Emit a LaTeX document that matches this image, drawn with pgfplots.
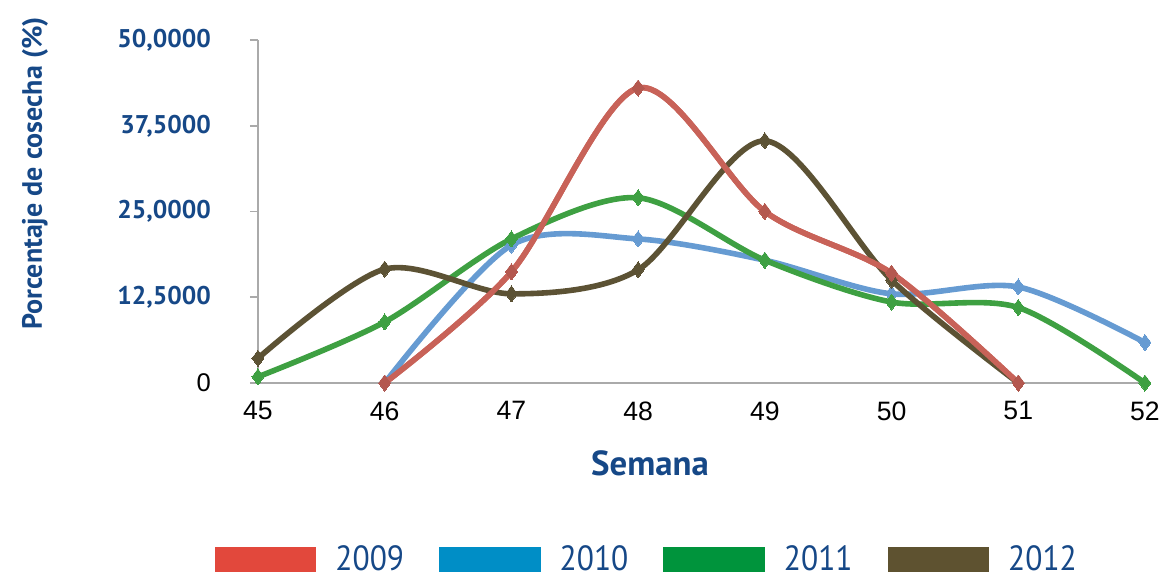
\documentclass[border=0pt]{standalone}
\usepackage{fontspec}
\usepackage{graphicx}
\usepackage{pgfplots}
\pgfplotsset{compat=1.18}
\setmainfont{PT Sans}
\newfontfamily\arial{Liberation Sans}
\definecolor{dinblue}{RGB}{22,72,135}
\definecolor{lred}{RGB}{200,98,88}
\definecolor{lblue}{RGB}{102,155,210}
\definecolor{lgreen}{RGB}{62,160,66}
\definecolor{lbrown}{RGB}{92,82,52}
\definecolor{gred}{RGB}{226,72,60}
\definecolor{gblue}{RGB}{0,142,198}
\definecolor{ggreen}{RGB}{0,148,60}
\definecolor{gbrown}{RGB}{94,82,48}
\definecolor{axgray}{RGB}{170,170,170}
\begin{document}
\begin{tikzpicture}
\path[use as bounding box] (-129pt,-98pt) rectangle (453pt,191.5pt);
\begin{axis}[
  at={(0,0)}, anchor=south west,
  scale only axis, width=443.5pt, height=171.5pt,
  xmin=45, xmax=52, ymin=0, ymax=50,
  axis lines*=left,
  axis line style={draw=axgray, line width=0.8pt},
  every outer x axis line/.append style={-},
  every outer y axis line/.append style={-},
  xtick={45,...,52},
  xticklabels={45,46,47,48,49,50,51,52},
  xtick style={draw=none},
  xticklabel style={font=\arial\fontsize{13.3}{15}\selectfont, text=black, yshift=-1.8pt},
  ytick={0,12.5,25,37.5,50},
  yticklabels={{\arial\mdseries\color{black}0},{12,5000},{25,0000},{37,5000},{50,0000}},
  ytick style={draw=axgray, line width=0.8pt},
  tick align=outside, major tick length=4pt,
  yticklabel style={font=\bfseries\fontsize{12.8}{14}\selectfont, text=dinblue, anchor=east, xshift=-16pt},
  xlabel={Semana},
  xlabel style={font=\bfseries\fontsize{17.4}{19}\selectfont, text=dinblue, at={(axis description cs:0.442,-0.235)}, anchor=center},
  ylabel={Porcentaje de cosecha (\%)},
  ylabel style={font=\bfseries\fontsize{14}{16}\selectfont, text=dinblue, at={(axis description cs:-0.2514,0.611)}, anchor=center, rotate=0},
  clip=false,
  legend columns=4,
  legend style={draw=none, fill=none, at={(axis description cs:0.439,-0.515)}, anchor=center,
    font=\fontsize{17.5}{18}\selectfont, text=dinblue,
    nodes={inner sep=1.5pt},
    /tikz/every odd column/.append style={column sep=8pt},
    /tikz/every even column/.append style={column sep=16pt}},
  every axis plot/.append style={line width=2.8pt, smooth, tension=0.5, mark=diamond*, mark size=4pt},
]
\addplot[color=lred, mark options={fill=lred!90!black, draw=lred!90!black, line width=0pt}, forget plot] coordinates {
 (46,0) (47,16.2) (48,43.0) (49,25.0) (50,16.0) (51,0)};
\addplot[color=lblue, mark options={fill=lblue, draw=lblue, line width=0pt}, forget plot] coordinates {
 (46,0) (47,20.1) (48,21.0) (49,17.9) (50,13.0) (51,14.0) (52,5.9)};
\addplot[color=lgreen, mark options={fill=lgreen, draw=lgreen, line width=0pt}, forget plot] coordinates {
 (45,0.9) (46,8.9) (47,21.0) (48,27.0) (49,17.9) (50,11.8) (51,11.0) (52,0)};
\addplot[color=lbrown, mark options={fill=lbrown, draw=lbrown, line width=0pt}, forget plot] coordinates {
 (45,3.6) (46,16.6) (47,13.0) (48,16.5) (49,35.3) (50,15.0) (51,0)};
\addplot[color=lred, mark options={fill=lred!90!black, draw=lred!90!black, line width=0pt}, forget plot] coordinates {
 (46,0) (47,16.2) (48,43.0) (49,25.0) (50,16.0) (51,0)};
\addlegendimage{legend image code/.code={\fill[gred] (0pt,-5pt) rectangle (48pt,5pt);}}
\addlegendentry{\scalebox{0.9}[1]{2009}}
\addlegendimage{legend image code/.code={\fill[gblue] (0pt,-5pt) rectangle (48pt,5pt);}}
\addlegendentry{\scalebox{0.9}[1]{2010}}
\addlegendimage{legend image code/.code={\fill[ggreen] (0pt,-5pt) rectangle (48pt,5pt);}}
\addlegendentry{\scalebox{0.9}[1]{2011}}
\addlegendimage{legend image code/.code={\fill[gbrown] (0pt,-5pt) rectangle (48pt,5pt);}}
\addlegendentry{\scalebox{0.9}[1]{2012}}
\end{axis}
\end{tikzpicture}
\end{document}
